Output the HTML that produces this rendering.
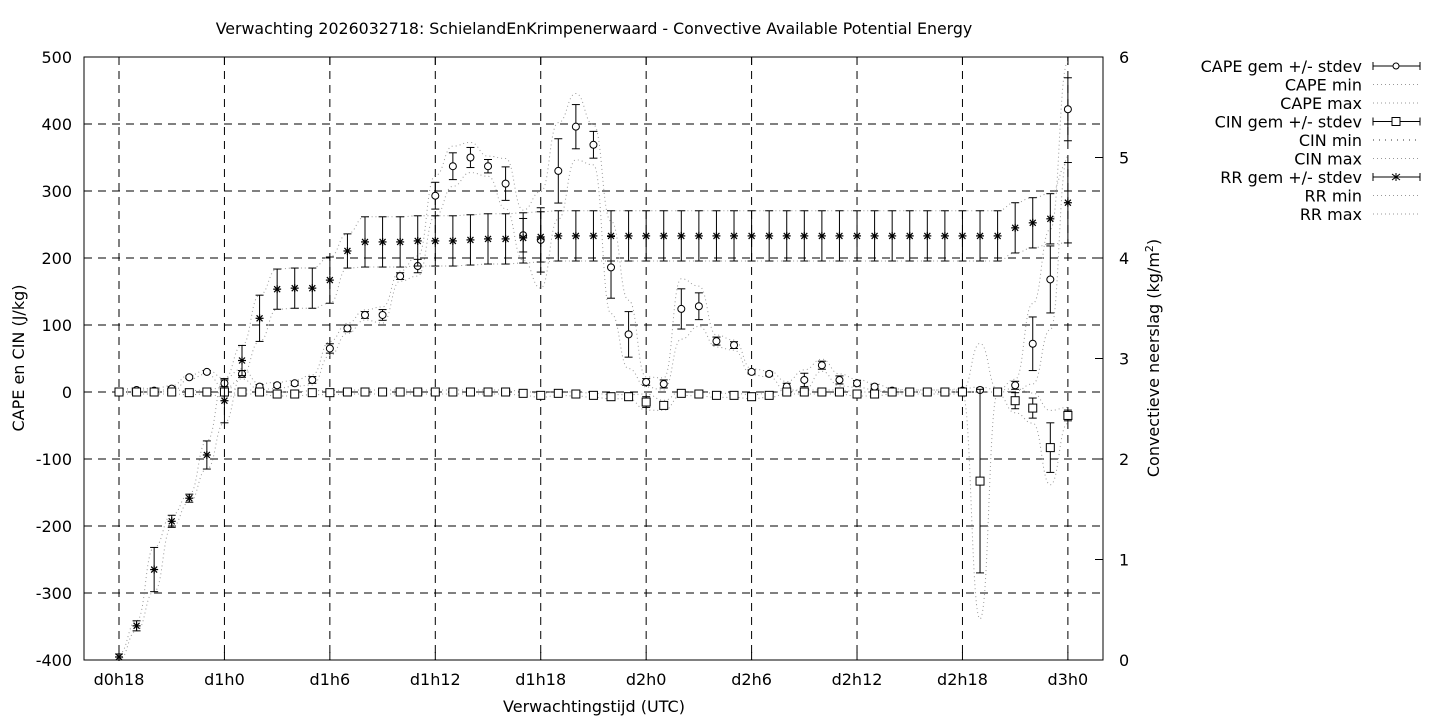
<!DOCTYPE html>
<html><head><meta charset="utf-8"><style>
html,body{margin:0;padding:0;background:#fff;}
svg{display:block;font-family:"DejaVu Sans","Liberation Sans",sans-serif;}
</style></head><body>
<svg id="s" width="1440" height="720" xmlns="http://www.w3.org/2000/svg">
<rect width="1440" height="720" fill="#fff"/>
<text x="594" y="34" font-size="15.8" text-anchor="middle">Verwachting 2026032718: SchielandEnKrimpenerwaard - Convective Available Potential Energy</text>
<g id="grid"></g>
<rect x="84" y="57" width="1019" height="603" fill="none" stroke="#000" stroke-width="1"/>
<g id="ticks" font-size="16"></g>
<text x="594" y="712" font-size="16" text-anchor="middle">Verwachtingstijd (UTC)</text>
<text transform="translate(24,358) rotate(-90)" font-size="16" text-anchor="middle">CAPE en CIN (J/kg)</text>
<text transform="translate(1159,358) rotate(-90)" font-size="16" text-anchor="middle">Convectieve neerslag (kg/m<tspan font-size="11" dy="-6">2</tspan><tspan dy="6">)</tspan></text>
<g id="data"></g>
<g id="legend" font-size="16"></g>
</svg>
<script>
const NS="http://www.w3.org/2000/svg";
function el(p,t,a,txt){const e=document.createElementNS(NS,t);for(const k in a)e.setAttribute(k,a[k]);if(txt!==undefined)e.textContent=txt;p.appendChild(e);return e;}
const X=i=>119+i*17.572, YL=v=>392-v*0.67, YR=v=>660-v*100.5;
const grid=document.getElementById('grid'),ticks=document.getElementById('ticks'),data=document.getElementById('data'),leg=document.getElementById('legend');
const gs={stroke:"#000","stroke-width":1,"stroke-dasharray":"8,6"};
for(let v=-300;v<=400;v+=100){el(grid,'line',Object.assign({x1:84,x2:1103,y1:YL(v),y2:YL(v)},gs));}
const xl=["d0h18","d1h0","d1h6","d1h12","d1h18","d2h0","d2h6","d2h12","d2h18","d3h0"];
xl.forEach((l,k)=>{const x=X(k*6);el(grid,'line',Object.assign({x1:x,x2:x,y1:57,y2:660},gs));
el(ticks,'line',{x1:x,x2:x,y1:660,y2:652,stroke:"#000"});el(ticks,'line',{x1:x,x2:x,y1:57,y2:65,stroke:"#000"});
el(ticks,'text',{x:x,y:685,"text-anchor":"middle"},l);});
for(let v=-400;v<=500;v+=100){const y=YL(v);el(ticks,'line',{x1:84,x2:92,y1:y,y2:y,stroke:"#000"});el(ticks,'text',{x:72,y:y+6,"text-anchor":"end"},v);}
for(let v=0;v<=6;v++){const y=YR(v);el(ticks,'line',{x1:1095,x2:1103,y1:y,y2:y,stroke:"#000"});el(ticks,'text',{x:1119,y:y+6},v);}
const cape=[0,3,2,5,22,30,13,27,8,10,13,18,65,95,115,115,173,188,293,337,350,337,311,234,227,330,396,369,186,86,15,12,124,128,76,70,30,27,8,18,40,18,13,8,2,0,0,0,2,3,0,10,72,168,422];
const capeS=[3,2,2,3,2,2,5,5,3,3,3,5,7,5,5,8,5,10,20,20,15,10,25,25,48,48,33,20,46,34,5,6,30,20,6,5,3,3,5,10,6,6,4,3,2,2,2,2,2,3,2,6,40,50,47];
const cin=[0,0,0,0,-1,0,0,0,0,-3,-3,-1,-1,0,0,0,0,0,0,0,0,0,0,-2,-5,-2,-3,-5,-7,-7,-15,-20,-2,-3,-5,-5,-7,-5,0,0,0,0,-3,-3,0,0,0,0,0,-133,0,-13,-24,-83,-35];
const cinS=[2,2,2,2,2,2,5,2,2,2,2,2,2,2,2,2,2,2,2,2,2,2,2,2,2,2,2,2,2,2,8,5,2,2,2,2,2,2,2,2,2,2,2,2,2,2,2,2,2,137,2,12,15,37,8];
const rr=[0.03,0.34,0.9,1.38,1.61,2.04,2.58,2.98,3.4,3.69,3.7,3.7,3.78,4.07,4.16,4.16,4.16,4.17,4.17,4.17,4.18,4.19,4.19,4.2,4.21];
while(rr.length<51)rr.push(4.22);rr.push(4.3,4.35,4.39,4.55);
const rrS=[0.03,0.05,0.22,0.06,0.04,0.14,0.22,0.15,0.23,0.2,0.2,0.2,0.23,0.17];
while(rrS.length<54)rrS.push(0.25);rrS.push(0.4);
function smooth(pts){let d="M"+pts[0][0]+","+pts[0][1];for(let i=1;i<pts.length;i++){const p0=pts[i-1],p1=pts[i],mx=(p0[0]+p1[0])/2;d+=" C"+mx+","+p0[1]+" "+mx+","+p1[1]+" "+p1[0]+","+p1[1];}return d;}
const dot={fill:"none",stroke:"#999","stroke-width":1,"stroke-dasharray":"1,3"};
function env(m,s,Y,k,clampMin){const a=[],b=[];for(let i=0;i<m.length;i++){a.push([X(i),Y(m[i]+k*s[i])]);let v=m[i]-k*s[i];if(clampMin!==null&&v<clampMin)v=clampMin;b.push([X(i),Y(v)]);}
el(data,'path',Object.assign({d:smooth(a)},dot));el(data,'path',Object.assign({d:smooth(b)},dot));}
env(cape,capeS,YL,1.5,0);
env(cin,cinS,YL,1.5,null);
env(rr,rrS,YR,1.0,0);
function ebar(x,y1,y2){el(data,'line',{x1:x,x2:x,y1:y1,y2:y2,stroke:"#000"});el(data,'line',{x1:x-4,x2:x+4,y1:y1,y2:y1,stroke:"#000"});el(data,'line',{x1:x-4,x2:x+4,y1:y2,y2:y2,stroke:"#000"});}
function circ(x,y){el(data,'circle',{cx:x,cy:y,r:3.5,fill:"#fff",stroke:"#000"});}
function sq(x,y){el(data,'rect',{x:x-4,y:y-4,width:8,height:8,fill:"#fff",stroke:"#000"});}
function star(x,y){const g={stroke:"#000","stroke-width":1.2};el(data,'line',Object.assign({x1:x-4,x2:x+4,y1:y,y2:y},g));el(data,'line',Object.assign({x1:x,x2:x,y1:y-4,y2:y+4},g));el(data,'line',Object.assign({x1:x-3,x2:x+3,y1:y-3,y2:y+3},g));el(data,'line',Object.assign({x1:x-3,x2:x+3,y1:y+3,y2:y-3},g));}
for(let i=0;i<55;i++){const x=X(i);
ebar(x,YL(cape[i]+capeS[i]),YL(cape[i]-capeS[i]));circ(x,YL(cape[i]));
ebar(x,YL(cin[i]+cinS[i]),YL(cin[i]-cinS[i]));sq(x,YL(cin[i]));
ebar(x,YR(rr[i]+rrS[i]),YR(rr[i]-rrS[i]));star(x,YR(rr[i]));}
const L=[["CAPE gem +/- stdev","c"],["CAPE min","d"],["CAPE max","d"],["CIN gem +/- stdev","s"],["CIN min","d2"],["CIN max","d"],["RR gem +/- stdev","a"],["RR min","d"],["RR max","d"]];
L.forEach((r,k)=>{const y=66+k*18.5;el(leg,'text',{x:1362,y:y+6,"text-anchor":"end"},r[0]);
if(r[1]==="c"||r[1]==="s"||r[1]==="a"){el(leg,'line',{x1:1373,x2:1420,y1:y,y2:y,stroke:"#000"});el(leg,'line',{x1:1373,x2:1373,y1:y-4,y2:y+4,stroke:"#000"});el(leg,'line',{x1:1420,x2:1420,y1:y-4,y2:y+4,stroke:"#000"});
const cx=1396;if(r[1]==="c")el(leg,'circle',{cx:cx,cy:y,r:3,fill:"#fff",stroke:"#000"});else if(r[1]==="s")el(leg,'rect',{x:cx-4,y:y-4,width:8,height:8,fill:"#fff",stroke:"#000"});else{const g={stroke:"#000"};el(leg,'line',Object.assign({x1:cx-4,x2:cx+4,y1:y-3,y2:y+3},g));el(leg,'line',Object.assign({x1:cx-4,x2:cx+4,y1:y+3,y2:y-3},g));el(leg,'line',Object.assign({x1:cx,x2:cx,y1:y-4,y2:y+4},g));}}
else el(leg,'line',Object.assign({x1:1373,x2:1420,y1:y,y2:y},dot,r[1]==="d2"?{stroke:"#333","stroke-dasharray":"1,5"}:{}));});
</script>
</body></html>
